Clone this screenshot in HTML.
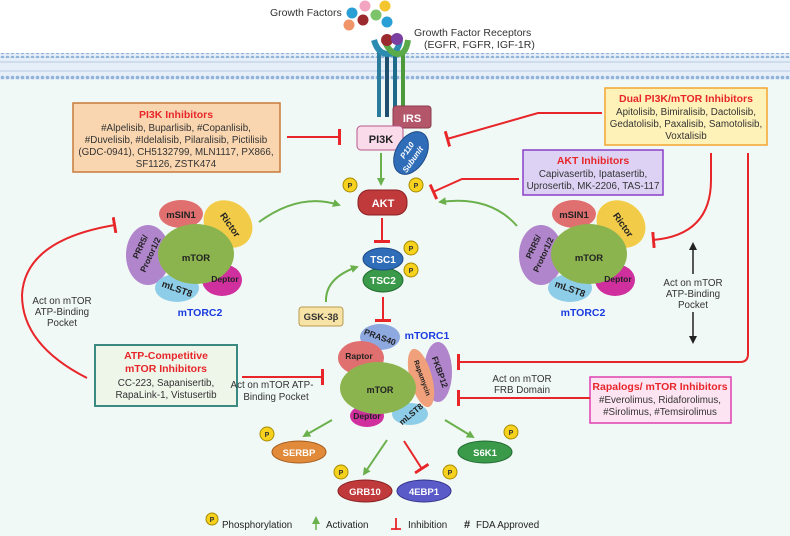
<!DOCTYPE html>
<html><head><meta charset="utf-8"><style>
html,body{margin:0;padding:0;background:#fff}
svg{display:block}
text{font-family:"Liberation Sans Narrow","Liberation Sans",sans-serif}
</style></head><body>
<svg width="790" height="536" viewBox="0 0 790 536" xmlns="http://www.w3.org/2000/svg">
<defs>
<pattern id="dots" x="0" y="0" width="5" height="5" patternUnits="userSpaceOnUse"><circle cx="2.5" cy="2.5" r="1.8" fill="#8fb3d9"/></pattern>
<marker id="ga" markerWidth="8" markerHeight="8" refX="6" refY="4" orient="auto" markerUnits="userSpaceOnUse"><path d="M0,0 L8,4 L0,8 z" fill="#6ab04c"/></marker>
<marker id="ba" markerWidth="8" markerHeight="8" refX="6" refY="4" orient="auto-start-reverse" markerUnits="userSpaceOnUse"><path d="M0,0 L8,4 L0,8 z" fill="#222"/></marker>
<marker id="rt" markerWidth="4" markerHeight="16" refX="2" refY="8" orient="auto" markerUnits="userSpaceOnUse"><rect x="0" y="0" width="3" height="16" fill="#e8262a"/></marker>
</defs>
<rect x="0" y="0" width="790" height="536" fill="#fff"/>
<rect x="0" y="78" width="790" height="458" fill="#f1f9f6"/>
<rect x="0" y="53" width="790" height="27" fill="#e6eef8"/>
<rect x="0" y="53" width="790" height="5" fill="url(#dots)"/>
<rect x="0" y="75" width="790" height="5" fill="url(#dots)"/>
<g stroke="#b8cbe4" stroke-width="1"><line x1="0" y1="62" x2="790" y2="62"/><line x1="0" y1="71" x2="790" y2="71"/></g>

<!-- growth factors -->
<text x="270" y="16" font-size="10.5" fill="#333">Growth Factors</text>
<circle cx="365" cy="6" r="5.5" fill="#f2a4c0"/><circle cx="385" cy="6" r="5.5" fill="#f2c531"/>
<circle cx="352" cy="13" r="5.5" fill="#2a9fd6"/><circle cx="376" cy="15" r="5.5" fill="#7cc36a"/>
<circle cx="363" cy="20" r="5.5" fill="#9b2a2e"/><circle cx="387" cy="22" r="5.5" fill="#2a9fd6"/>
<circle cx="349" cy="25" r="5.5" fill="#f0956a"/>
<text x="414" y="36" font-size="10.5" fill="#333">Growth Factor Receptors</text>
<text x="424" y="48" font-size="10.5" fill="#333">(EGFR, FGFR, IGF-1R)</text>
<!-- receptors -->
<g stroke-width="4" fill="none">
<path d="M379,52 v65" stroke="#2b7b9c"/><path d="M387,52 v65" stroke="#1f4e6e"/><path d="M395,52 v60" stroke="#1d6a8a"/><path d="M403,52 v58" stroke="#4e9a3a"/>
</g>
<path d="M374,40 q4,14 14,14 q10,0 12,-14" stroke="#2b8bb0" stroke-width="6" fill="none"/>
<path d="M384,40 q6,14 14,14 q8,0 10,-14" stroke="#5aaa4a" stroke-width="6" fill="none"/>
<circle cx="387" cy="40" r="6" fill="#9b2a2e"/><circle cx="397" cy="39" r="6" fill="#7a3fa0"/>
<rect x="393" y="106" width="38" height="22" rx="3" fill="#b4566a" stroke="#8a3a4e"/>
<text x="412" y="122" font-size="11" fill="#fff" font-weight="bold" text-anchor="middle">IRS</text>
<rect x="357" y="126" width="46" height="24" rx="4" fill="#f9dbe9" stroke="#b9578a"/>
<text x="381" y="143" font-size="11" font-weight="bold" text-anchor="middle" fill="#222">PI3K</text>
<ellipse cx="411" cy="153" rx="15" ry="23" transform="rotate(30 411 153)" fill="#2f6db8" stroke="#1d4a86"/>
<text x="411" y="151" font-size="8" fill="#fff" font-weight="bold" font-style="italic" text-anchor="middle" transform="rotate(-55 411 153)">P110</text>
<text x="415" y="161" font-size="8" fill="#fff" font-weight="bold" font-style="italic" text-anchor="middle" transform="rotate(-55 415 161)">Subunit</text>

<!-- inhibitor boxes -->
<rect x="73" y="103" width="207" height="69" fill="#f9d6b0" stroke="#c87a3a" stroke-width="1.5"/>
<text x="176" y="118" font-size="10.5" fill="#e8262a" font-weight="bold" text-anchor="middle">PI3K Inhibitors</text>
<g font-size="9.8" fill="#333" text-anchor="middle"><text x="176" y="131">#Alpelisib, Buparlisib, #Copanlisib,</text><text x="176" y="143">#Duvelisib, #Idelalisib, Pilaralisib, Pictilisib</text><text x="176" y="155">(GDC-0941), CH5132799, MLN1117, PX866,</text><text x="176" y="167">SF1126, ZSTK474</text></g>

<rect x="605" y="88" width="162" height="57" fill="#fff2b8" stroke="#f2a530" stroke-width="1.5"/>
<text x="686" y="102" font-size="10.5" fill="#e8262a" font-weight="bold" text-anchor="middle">Dual PI3K/mTOR Inhibitors</text>
<g font-size="9.8" fill="#333" text-anchor="middle"><text x="686" y="115">Apitolisib, Bimiralisib, Dactolisib,</text><text x="686" y="127">Gedatolisib, Paxalisib, Samotolisib,</text><text x="686" y="139">Voxtalisib</text></g>

<rect x="523" y="150" width="140" height="45" fill="#ddd2f4" stroke="#8a3fc8" stroke-width="1.5"/>
<text x="593" y="164" font-size="10.5" fill="#e8262a" font-weight="bold" text-anchor="middle">AKT Inhibitors</text>
<g font-size="9.8" fill="#333" text-anchor="middle"><text x="593" y="177">Capivasertib, Ipatasertib,</text><text x="593" y="189">Uprosertib, MK-2206, TAS-117</text></g>

<rect x="95" y="345" width="142" height="61" fill="#eef5e9" stroke="#3a8a82" stroke-width="2"/>
<text x="166" y="359" font-size="10.5" fill="#e8262a" font-weight="bold" text-anchor="middle">ATP-Competitive</text>
<text x="166" y="372" font-size="10.5" fill="#e8262a" font-weight="bold" text-anchor="middle">mTOR Inhibitors</text>
<g font-size="9.8" fill="#333" text-anchor="middle"><text x="166" y="386">CC-223, Sapanisertib,</text><text x="166" y="398">RapaLink-1, Vistusertib</text></g>

<rect x="590" y="377" width="141" height="46" fill="#fde4f3" stroke="#e040b0" stroke-width="1.5"/>
<text x="660" y="390" font-size="10.5" fill="#e8262a" font-weight="bold" text-anchor="middle">Rapalogs/ mTOR Inhibitors</text>
<g font-size="9.8" fill="#333" text-anchor="middle"><text x="660" y="403">#Everolimus, Ridaforolimus,</text><text x="660" y="415">#Sirolimus, #Temsirolimus</text></g>

<!-- red inhibition lines -->
<g stroke="#e8262a" stroke-width="2" fill="none">
<path d="M287,137 H340" marker-end="url(#rt)"/>
<path d="M602,113 H538 L447,139" marker-end="url(#rt)"/>
<path d="M519,179 H462 L433,192" marker-end="url(#rt)"/>
<path d="M382,218 V242" marker-end="url(#rt)"/>
<path d="M383,297 V321" marker-end="url(#rt)"/>
<path d="M242,377 H323" marker-end="url(#rt)"/>
<path d="M590,398 H458" marker-end="url(#rt)"/>
<path d="M748,153 V354 q0,8 -8,8 H458" marker-end="url(#rt)"/>
<path d="M711,153 V180 q0,55 -58,60" marker-end="url(#rt)"/>
<path d="M87,378 Q22,345 22,295 Q25,240 115,225" marker-end="url(#rt)"/>
<path d="M404,441 L422,469" marker-end="url(#rt)"/>
</g>
<!-- green arrows -->
<g stroke="#6ab04c" stroke-width="2" fill="none">
<path d="M381,153 V184" marker-end="url(#ga)"/>
<path d="M259,222 Q300,192 339,205" marker-end="url(#ga)"/>
<path d="M517,226 Q490,195 440,202" marker-end="url(#ga)"/>
<path d="M326,302 Q325,278 357,267" marker-end="url(#ga)"/>
<path d="M332,420 L304,436" marker-end="url(#ga)"/>
<path d="M387,440 L364,474" marker-end="url(#ga)"/>
<path d="M445,420 L473,437" marker-end="url(#ga)"/>
</g>
<path d="M693,244 V342" stroke="#222" stroke-width="1.5" marker-end="url(#ba)" marker-start="url(#ba)" fill="none"/>
<rect x="663" y="274" width="60" height="38" fill="#f1f9f6"/>
<g font-size="9.8" fill="#333" text-anchor="middle">
<text x="693" y="286">Act on mTOR</text><text x="693" y="297">ATP-Binding</text><text x="693" y="308">Pocket</text>
<text x="62" y="304">Act on mTOR</text><text x="62" y="315">ATP-Binding</text><text x="62" y="326">Pocket</text>
<text x="272" y="388">Act on mTOR ATP-</text><text x="276" y="400">Binding Pocket</text>
<text x="522" y="382">Act on mTOR</text><text x="522" y="393">FRB Domain</text>
</g>

<!-- AKT -->
<rect x="358" y="190" width="49" height="25" rx="11" fill="#c0393b" stroke="#8a2022"/>
<text x="383" y="207" font-size="11" fill="#fff" font-weight="bold" text-anchor="middle">AKT</text>
<g font-size="7" font-weight="bold" text-anchor="middle" fill="#333">
<circle cx="350" cy="185" r="7" fill="#f6d11e" stroke="#a58b00"/><text x="350" y="188">P</text>
<circle cx="416" cy="185" r="7" fill="#f6d11e" stroke="#a58b00"/><text x="416" y="188">P</text>
</g>
<!-- TSC -->
<ellipse cx="383" cy="280" rx="20" ry="12" fill="#3a9a4a" stroke="#1f6a2e"/>
<ellipse cx="383" cy="259" rx="20" ry="11" fill="#2f6db8" stroke="#1d4a86"/>
<text x="383" y="263" font-size="10" fill="#fff" font-weight="bold" text-anchor="middle">TSC1</text>
<text x="383" y="284" font-size="10" fill="#fff" font-weight="bold" text-anchor="middle">TSC2</text>
<g font-size="7" font-weight="bold" text-anchor="middle" fill="#333">
<circle cx="411" cy="248" r="7" fill="#f6d11e" stroke="#a58b00"/><text x="411" y="251">P</text>
<circle cx="411" cy="270" r="7" fill="#f6d11e" stroke="#a58b00"/><text x="411" y="273">P</text>
</g>
<rect x="299" y="307" width="44" height="19" rx="3" fill="#f7e3a5" stroke="#b89a50"/>
<text x="321" y="320" font-size="9.5" font-weight="bold" text-anchor="middle" fill="#333">GSK-3β</text>

<!-- mTORC2 left -->
<g id="c2">
<ellipse cx="228" cy="224" rx="26" ry="22" fill="#f2cc48" transform="rotate(40 228 224)"/>
<ellipse cx="181" cy="214" rx="22" ry="14" fill="#e07070"/>
<ellipse cx="148" cy="255" rx="22" ry="30" fill="#b085cc"/>
<ellipse cx="222" cy="280" rx="20" ry="16" fill="#d02f9e"/>
<ellipse cx="177" cy="288" rx="22" ry="14" fill="#8ecde8"/>
<ellipse cx="196" cy="254" rx="38" ry="30" fill="#8cb44e"/>
<g font-size="9.5" font-weight="bold" fill="#222" text-anchor="middle">
<text x="181" y="218">mSIN1</text>
<text x="196" y="261">mTOR</text>
<text x="225" y="282" font-size="8.5">Deptor</text>
<text x="177" y="292" transform="rotate(20 177 289)">mLST8</text>
<text x="230" y="228" transform="rotate(55 230 225)">Rictor</text>
<text x="143" y="248" font-size="8.5" transform="rotate(-65 143 248)">PRR5/</text>
<text x="153" y="256" font-size="8.5" transform="rotate(-65 153 256)">Protor1/2</text>
</g>
</g>
<text x="200" y="316" font-size="10.5" font-weight="bold" fill="#1a3be0" text-anchor="middle">mTORC2</text>
<use href="#c2" transform="translate(393,0)"/>
<text x="583" y="316" font-size="10.5" font-weight="bold" fill="#1a3be0" text-anchor="middle">mTORC2</text>

<!-- mTORC1 -->
<ellipse cx="380" cy="337" rx="20" ry="13" fill="#8ea8e0"/>
<ellipse cx="438" cy="372" rx="14" ry="30" fill="#b085cc"/>
<ellipse cx="361" cy="358" rx="23" ry="17" fill="#e07070"/>
<ellipse cx="421" cy="378" rx="11" ry="30" fill="#f0a07a" transform="rotate(-15 421 378)"/>
<ellipse cx="367" cy="416" rx="17" ry="11" fill="#d02f9e"/>
<ellipse cx="410" cy="414" rx="18" ry="11" fill="#8ecde8"/>
<ellipse cx="378" cy="388" rx="38" ry="26" fill="#8cb44e"/>
<g font-size="9" font-weight="bold" fill="#222" text-anchor="middle">
<text x="380" y="340" font-size="8.5" transform="rotate(20 380 337)">PRAS40</text>
<text x="359" y="359" font-size="8.5">Raptor</text>
<text x="380" y="393">mTOR</text>
<text x="367" y="419" font-size="8.5">Deptor</text>
<text x="411" y="417" font-size="8.5" transform="rotate(-40 411 414)">mLST8</text>
<text x="440" y="375" font-size="8.5" transform="rotate(70 440 372)">FKBP12</text>
<text x="422" y="380" font-size="7" transform="rotate(70 422 378)">Rapamycin</text>
</g>
<text x="427" y="339" font-size="10.5" font-weight="bold" fill="#1a3be0" text-anchor="middle">mTORC1</text>

<!-- substrates -->
<ellipse cx="299" cy="452" rx="27" ry="11" fill="#e08a3a" stroke="#a45a1a"/>
<text x="299" y="456" font-size="9.5" font-weight="bold" text-anchor="middle" fill="#fff">SERBP</text>
<ellipse cx="365" cy="491" rx="27" ry="11" fill="#c0393b" stroke="#8a2022"/>
<text x="365" y="495" font-size="9.5" font-weight="bold" fill="#fff" text-anchor="middle">GRB10</text>
<ellipse cx="424" cy="491" rx="27" ry="11" fill="#5a5ac8" stroke="#33338a"/>
<text x="424" y="495" font-size="9.5" font-weight="bold" fill="#fff" text-anchor="middle">4EBP1</text>
<ellipse cx="485" cy="452" rx="27" ry="11" fill="#3a9a4a" stroke="#1f6a2e"/>
<text x="485" y="456" font-size="9.5" font-weight="bold" fill="#fff" text-anchor="middle">S6K1</text>
<g font-size="7" font-weight="bold" text-anchor="middle" fill="#333">
<circle cx="267" cy="434" r="7" fill="#f6d11e" stroke="#a58b00"/><text x="267" y="437">P</text>
<circle cx="341" cy="472" r="7" fill="#f6d11e" stroke="#a58b00"/><text x="341" y="475">P</text>
<circle cx="450" cy="472" r="7" fill="#f6d11e" stroke="#a58b00"/><text x="450" y="475">P</text>
<circle cx="511" cy="432" r="7" fill="#f6d11e" stroke="#a58b00"/><text x="511" y="435">P</text>
<circle cx="212" cy="519" r="6" fill="#f6d11e" stroke="#a58b00"/><text x="212" y="522">P</text>
</g>
<!-- legend -->
<g font-size="9.8" fill="#222">
<text x="222" y="528">Phosphorylation</text>
<text x="326" y="528">Activation</text>
<text x="408" y="528">Inhibition</text>
<text x="464" y="528" font-weight="bold" font-size="11">#</text>
<text x="476" y="528">FDA Approved</text>
</g>
<path d="M316,530 V518" stroke="#6ab04c" stroke-width="1.5" marker-end="url(#ga)"/>
<path d="M396,530 V518 M391,529 H401" stroke="#e8262a" stroke-width="1.8"/>
</svg>
</body></html>
